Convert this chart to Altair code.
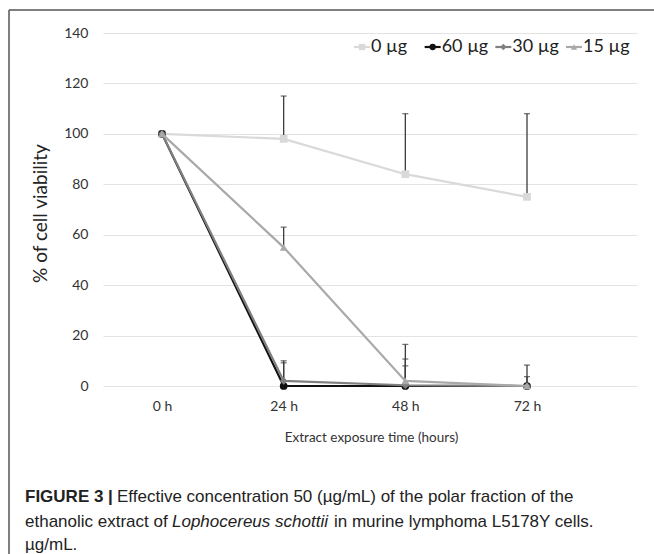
import altair as alt
import pandas as pd

# ---- data ----
series = ["0 µg", "60 µg", "30 µg", "15 µg"]
hours = [0, 24, 48, 72]
hour_labels = ["0 h", "24 h", "48 h", "72 h"]
v_0 = [100, 98, 84, 75]
v_60 = [100, 0, 0, 0]
v_30 = [100, 2, 0.3, 0]
v_15 = [100, 55, 2, 0]
e_0 = [0, 17, 24, 33]
e_60 = [0, 10, 8, 0]
e_30 = [0, 7.2, 10.4, 3.7]
e_15 = [0, 8, 14.5, 8.3]

colors = ["#d9d9d9", "#111111", "#808080", "#a9a9a9"]
shapes = ["square", "circle", "diamond", "triangle-up"]

vals = [v_0, v_60, v_30, v_15]
errs = [e_0, e_60, e_30, e_15]

FONT = "Lato"
CAP_FONT = "Liberation Sans"
CAP_SIZE = 17
OX, OY = 103, 33  # plot origin in page pixels

x_scale = alt.Scale(domain=[-11.64, 93.7], nice=False, zero=False)
y_scale = alt.Scale(domain=[0, 140], nice=False)

layers = []

axis_df = pd.DataFrame({"hour": hours, "value": [0, 0, 0, 0]})
axes = alt.Chart(axis_df).mark_point(opacity=0).encode(
    x=alt.X("hour:Q", scale=x_scale,
            axis=alt.Axis(values=hours, labelExpr="datum.value + ' h'", grid=False,
                          ticks=False, domain=False, labelFont=FONT, labelFontSize=14,
                          labelColor="#333333", labelPadding=13,
                          title="Extract exposure time (hours)", titleFont=FONT,
                          titleFontSize=13.5, titleFontWeight="normal", titleColor="#333333",
                          titleX=371 - OX, titleY=437 - 386, titleBaseline="middle",
                          titleAlign="center", titleAnchor="start")),
    y=alt.Y("value:Q", scale=y_scale,
            axis=alt.Axis(values=list(range(0, 141, 20)), grid=True, gridColor="#e3e3e3",
                          gridWidth=1, ticks=False, domain=False, labelFont=FONT,
                          labelFontSize=14, labelColor="#333333", labelPadding=15,
                          title="% of cell viability", titleFont=FONT, titleFontSize=19,
                          titleFontWeight="normal", titleColor="#222222",
                          titleAngle=270, titleX=40 - OX, titleY=213 - OY,
                          titleAlign="center", titleBaseline="middle", titleAnchor="start")),
)
layers.append(axes)

for s, v, e in zip(series, vals, errs):
    df = pd.DataFrame({"hour": hours, "value": v, "top": [a + b for a, b in zip(v, e)], "err": e})
    df = df[df["err"] > 0]
    bar = alt.Chart(df).mark_rule(color="#3c3c3c", strokeWidth=1.3).encode(
        x=alt.X("hour:Q", scale=x_scale), y=alt.Y("value:Q", scale=y_scale), y2="top:Q")
    cap = alt.Chart(df).mark_tick(color="#3c3c3c", orient="horizontal", size=6, thickness=1.3).encode(
        x=alt.X("hour:Q", scale=x_scale), y=alt.Y("top:Q", scale=y_scale))
    layers += [bar, cap]

for s, v, c, sh in zip(series, vals, colors, shapes):
    df = pd.DataFrame({"hour": hours, "value": v})
    line = alt.Chart(df).mark_line(color=c, strokeWidth=2.2).encode(
        x=alt.X("hour:Q", scale=x_scale), y=alt.Y("value:Q", scale=y_scale))
    pts = alt.Chart(df).mark_point(filled=True, color=c, shape=sh, size=60, opacity=1).encode(
        x=alt.X("hour:Q", scale=x_scale), y=alt.Y("value:Q", scale=y_scale))
    layers += [line, pts]

# ---- legend (top right) ----
leg_df = pd.DataFrame({"series": series})
leg_x = alt.X("series:N", scale=alt.Scale(type="point", domain=series, padding=0,
                                          range=[362 - OX, 574 - OX]), axis=None)
leg_color = alt.Color("series:N", scale=alt.Scale(domain=series, range=colors), legend=None)
leg_shape = alt.Shape("series:N", scale=alt.Scale(domain=series, range=shapes), legend=None)
leg_line = alt.Chart(leg_df).mark_rule(strokeWidth=2.2, xOffset=-8, x2Offset=8).encode(
    x=leg_x, x2="series:N", y=alt.value(47 - OY), color=leg_color)
leg_pt = alt.Chart(leg_df).mark_point(filled=True, size=40, opacity=1).encode(
    x=leg_x, y=alt.value(47 - OY), color=leg_color, shape=leg_shape)
leg_txt = alt.Chart(leg_df).mark_text(align="left", baseline="middle", dx=9, font=FONT,
                                     fontSize=18, color="#222222").encode(
    x=leg_x, y=alt.value(47 - OY), text="series:N")
legend = alt.layer(leg_line, leg_pt, leg_txt)

# ---- frame (top and left borders) ----
one = alt.Data(values=[{}])
frame_top = alt.Chart(one).mark_rule(color="#555555", strokeWidth=1.5).encode(
    x=alt.value(9 - OX), x2=alt.value(654 - OX), y=alt.value(10 - OY))
frame_left = alt.Chart(one).mark_rule(color="#555555", strokeWidth=1.5).encode(
    x=alt.value(9 - OX), y=alt.value(10 - OY), y2=alt.value(554 - OY))

# ---- caption ----
def cap_text(txt, x, y, weight="normal", style="normal"):
    return alt.Chart(one).mark_text(align="left", baseline="middle", font=CAP_FONT,
                                    fontSize=CAP_SIZE, fontWeight=weight, fontStyle=style,
                                    color="#222222").encode(
        x=alt.value(x - OX), y=alt.value(y - OY), text=alt.value(txt))

caption = [
    cap_text("FIGURE 3", 25, 497, weight="bold"),
    cap_text("|", 108, 497, weight="bold"),
    cap_text("Effective concentration 50 (µg/mL) of the polar fraction of the", 117, 497),
    cap_text("ethanolic extract of", 25, 522),
    cap_text("Lophocereus schottii", 172, 522, style="italic"),
    cap_text("in murine lymphoma L5178Y cells.", 334, 522),
    cap_text("µg/mL.", 25, 545),
]

main = alt.layer(*layers)
chart = alt.layer(main, legend, frame_top, frame_left, *caption).resolve_scale(
    x="independent", color="independent", shape="independent"
).properties(
    width=534, height=353,
    autosize=alt.AutoSizeParams(type="none"),
    padding={"left": OX, "top": OY, "right": 654 - 637, "bottom": 554 - 386},
    background="white",
).configure_view(stroke=None)

chart.save("out.html", embed_options={"renderer": "svg", "actions": False})
